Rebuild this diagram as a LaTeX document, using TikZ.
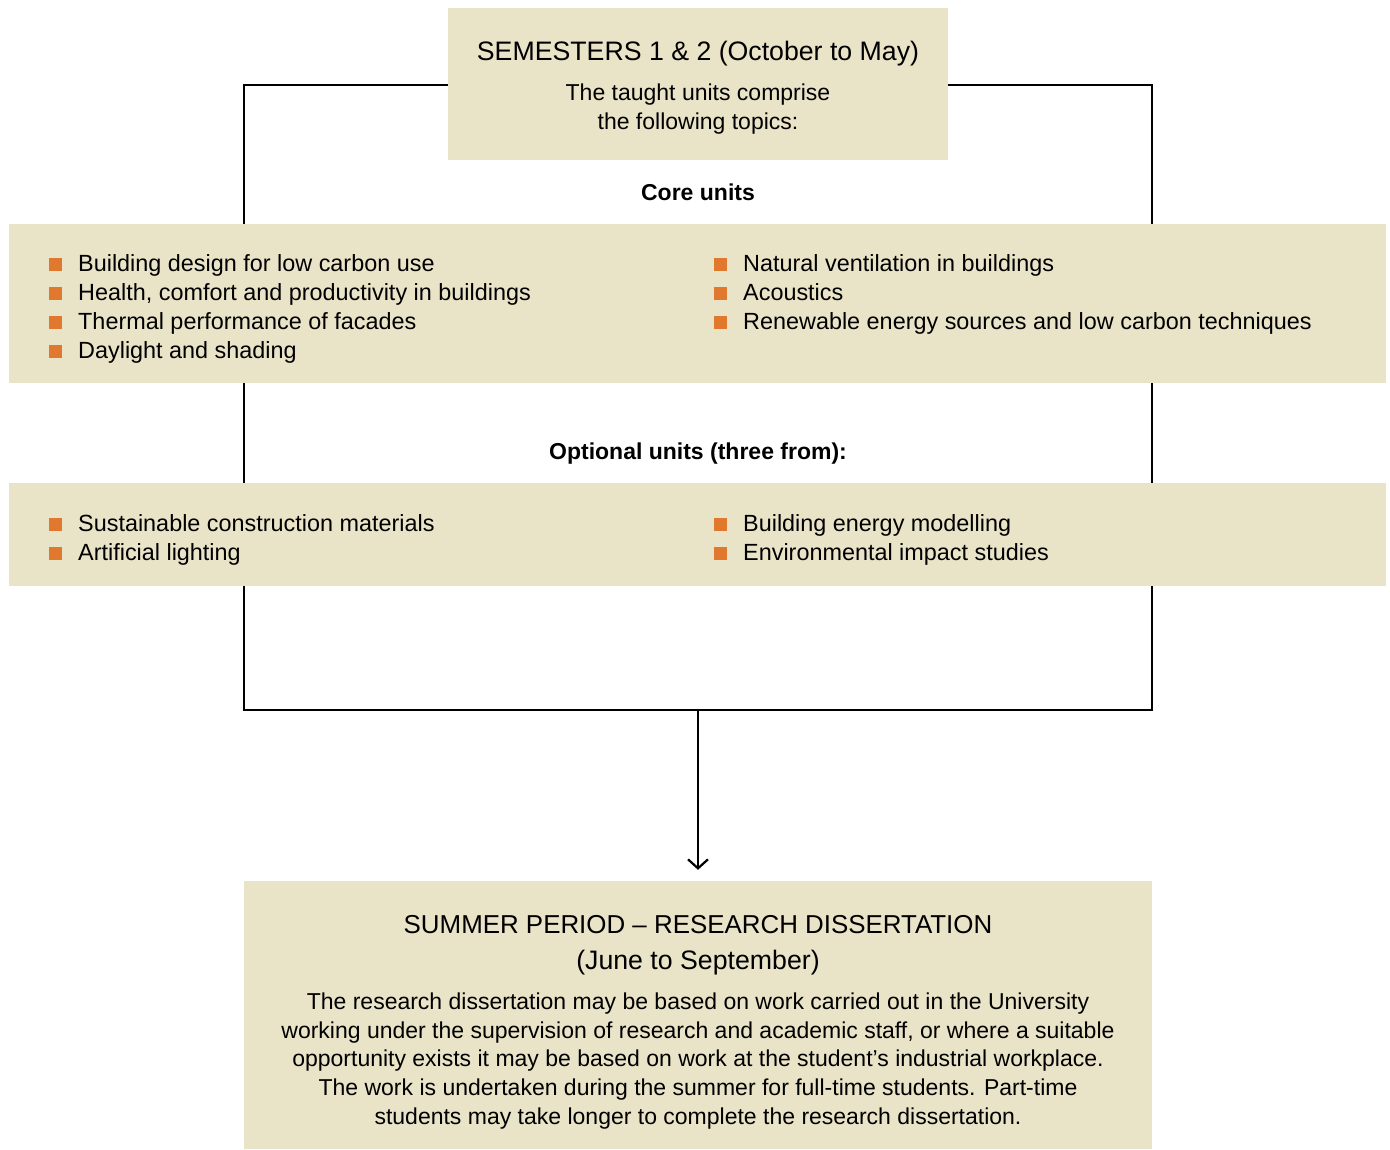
\documentclass[tikz,border=0pt]{standalone}
\usepackage{fontspec}
\setmainfont{Liberation Sans}
\usetikzlibrary{arrows.meta}
\definecolor{panelfill}{RGB}{233,227,199}
\definecolor{bulletfill}{RGB}{224,120,45}
\tikzset{
  panel/.style={fill=panelfill, draw=none, inner sep=0pt},
  bulletsq/.style={fill=bulletfill, draw=none, minimum size=12.5pt, inner sep=0pt, anchor=south west},
  item/.style={anchor=base west, inner sep=0pt, font=\fontsize{23.4}{28}\selectfont},
  bodyline/.style={anchor=base, inner sep=0pt, font=\fontsize{23}{28}\selectfont},
  titleline/.style={anchor=base, inner sep=0pt, font=\fontsize{26.7}{32}\selectfont},
  subtitleline/.style={anchor=base, inner sep=0pt, font=\fontsize{25.9}{32}\selectfont},
  heading/.style={anchor=base, inner sep=0pt, font=\bfseries\fontsize{23}{28}\selectfont},
  framebox/.style={draw=black, line width=2.2pt, inner sep=0pt},
  flow/.style={draw=black, line width=2.2pt, -{Straight Barb[length=9pt, width=20pt, line width=2.2pt]}}
}
\begin{document}
\begin{tikzpicture}[x=1pt, y=-1pt]
\useasboundingbox (0,0) rectangle (1390,1149);

% outer frame around the taught units
\node[framebox, minimum width=908pt, minimum height=625pt] (frame) at (698,397.5) {};

% semester heading box
\node[panel, minimum width=500pt, minimum height=152pt] (sem) at (698,84) {};
\node[titleline] (semtitle) at (698,60) {SEMESTERS 1 \& 2 (October to May)};
\node[bodyline] (semsub1) at (698,100) {The taught units comprise};
\node[bodyline] (semsub2) at (698,129) {the following topics:};

% core units
\node[heading] (corehead) at (698,200) {Core units};
\node[panel, minimum width=1377pt, minimum height=159pt] (coreband) at (697.5,303.5) {};

\node[bulletsq] (cb1) at (49,271) {};
\node[item] (c1) at (78,271) {Building design for low carbon use};
\node[bulletsq] (cb2) at (49,300) {};
\node[item] (c2) at (78,300) {Health, comfort and productivity in buildings};
\node[bulletsq] (cb3) at (49,329) {};
\node[item] (c3) at (78,329) {Thermal performance of facades};
\node[bulletsq] (cb4) at (49,358) {};
\node[item] (c4) at (78,358) {Daylight and shading};

\node[bulletsq] (cb5) at (714,271) {};
\node[item] (c5) at (743,271) {Natural ventilation in buildings};
\node[bulletsq] (cb6) at (714,300) {};
\node[item] (c6) at (743,300) {Acoustics};
\node[bulletsq] (cb7) at (714,329) {};
\node[item] (c7) at (743,329) {Renewable energy sources and low carbon techniques};

% optional units
\node[heading] (opthead) at (698,459) {Optional units (three from):};
\node[panel, minimum width=1377pt, minimum height=103pt] (optband) at (697.5,534.5) {};

\node[bulletsq] (ob1) at (49,531) {};
\node[item] (o1) at (78,531) {Sustainable construction materials};
\node[bulletsq] (ob2) at (49,560) {};
\node[item] (o2) at (78,560) {Artificial lighting};
\node[bulletsq] (ob3) at (714,531) {};
\node[item] (o3) at (743,531) {Building energy modelling};
\node[bulletsq] (ob4) at (714,560) {};
\node[item] (o4) at (743,560) {Environmental impact studies};

% summer dissertation box
\node[panel, minimum width=908pt, minimum height=268pt] (summer) at (698,1015) {};
\node[subtitleline] (sumtitle1) at (698,933) {SUMMER PERIOD – RESEARCH DISSERTATION};
\node[titleline] (sumtitle2) at (698,969) {(June to September)};
\node[bodyline] (s1) at (698,1009) {The research dissertation may be based on work carried out in the University};
\node[bodyline] (s2) at (698,1038) {working under the supervision of research and academic staff, or where a suitable};
\node[bodyline] (s3) at (698,1066) {opportunity exists it may be based on work at the student’s industrial workplace.};
\node[bodyline] (s4) at (698,1095) {The work is undertaken during the summer for full-time students. Part-time};
\node[bodyline] (s5) at (698,1124) {students may take longer to complete the research dissertation.};

% flow from the taught units to the dissertation
\draw[flow, shorten >=11pt] (frame.south) -- (summer.north);
\end{tikzpicture}
\end{document}
